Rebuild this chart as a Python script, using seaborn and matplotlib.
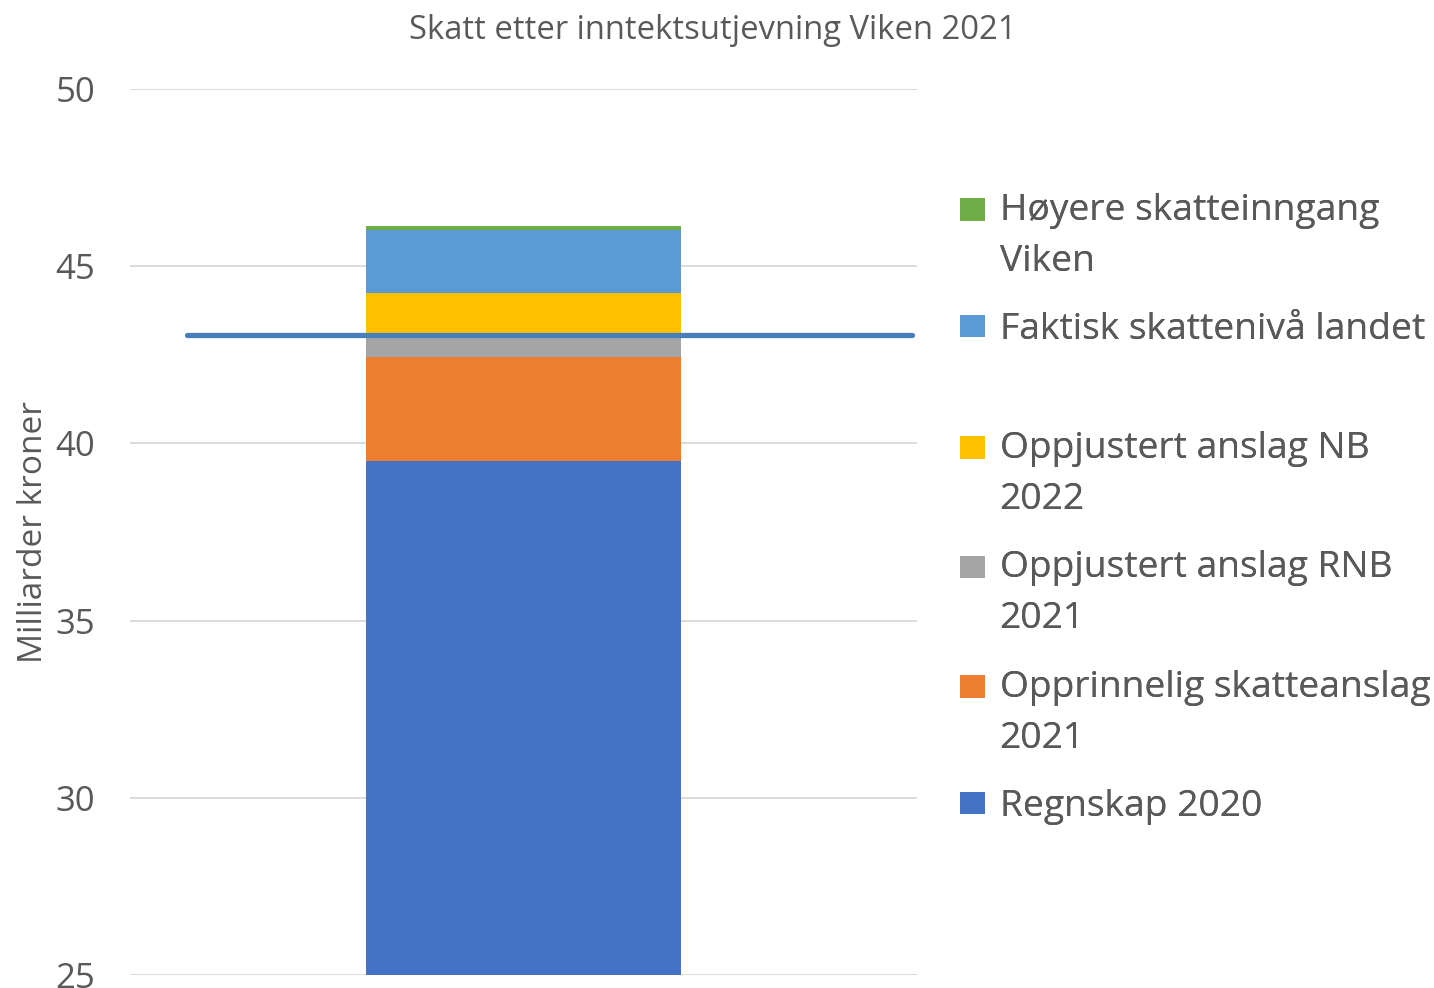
import matplotlib
matplotlib.use("Agg")
import matplotlib.pyplot as plt
import matplotlib.patheffects as pe
from matplotlib.patches import Patch, Rectangle
from matplotlib.legend_handler import HandlerBase
import seaborn as sns

# data (milliarder kroner), bottom to top
kategori = ["Viken 2021"]
serier = ["Regnskap 2020", "Opprinnelig skatteanslag\n2021", "Oppjustert anslag RNB\n2021",
          "Oppjustert anslag NB\n2022", "Faktisk skattenivå landet", "Høyere skatteinngang\nViken"]
verdier = [39.5, 2.94, 0.68, 1.12, 1.78, 0.11]
farger = ["#4472C4", "#ED7D31", "#A5A5A5", "#FFC000", "#5B9BD5", "#70AD47"]
landsnivaa = 43.05

sns.set_theme(style="whitegrid")
plt.rcParams["font.family"] = ["Open Sans", "DejaVu Sans"]
tekstfarge = "#595959"
LEG_FS = 26.8
LINESP = 1.56


class TopPatch(HandlerBase):
    # square handle aligned with the first line of a wrapped label
    def create_artists(self, legend, orig_handle, xdescent, ydescent, width, height, fontsize, trans):
        n = orig_handle.get_label().count("\n")
        shift = n * 0.49 * 0.95 * LINESP * fontsize
        r = Rectangle((-xdescent, -ydescent + shift), width, height,
                      facecolor=orig_handle.get_facecolor(), edgecolor="none", transform=trans)
        return [r]


fig = plt.figure(figsize=(14.34, 9.88), dpi=100)
ax = fig.add_axes([0.0907, 0.0132, 0.5488, 0.8967])

bunn = 0
for navn, v, f in zip(serier, verdier, farger):
    sns.barplot(x=kategori, y=[v], bottom=bunn, color=f, width=0.4, ax=ax,
                saturation=1, linewidth=0, zorder=3)
    bunn += v

ax.axhline(landsnivaa, xmin=0.072, xmax=0.994, color="#4A7EBB", lw=3.8, zorder=5,
           path_effects=[pe.SimplePatchShadow(offset=(1, -2), shadow_rgbFace="#808080", alpha=0.5),
                         pe.Normal()])

ax.set_ylim(25, 50)
ax.set_yticks(range(25, 51, 5))
ax.set_xlim(-0.5, 0.5)
ax.set_xticks([])
ax.set_xlabel("")
ax.grid(axis="y", color="#D9D9D9", lw=1.3)
ax.grid(axis="x", visible=False)
for s in ax.spines.values():
    s.set_visible(False)
ax.tick_params(axis="y", labelsize=25, colors=tekstfarge, pad=25, length=0)
ax.set_ylabel("Milliarder kroner", fontsize=24, color=tekstfarge, labelpad=4)

fig.text(0.497, 0.969, "Skatt etter inntektsutjevning Viken 2021", ha="center", va="center",
         fontsize=23.6, color=tekstfarge)

# legend in two blocks, top entry first, with a gap after "Faktisk skattenivå landet"
handles = [Patch(facecolor=f, edgecolor="none", label=s) for f, s in zip(farger, serier)][::-1]
labels = serier[::-1]
blokker = [(handles[:2], labels[:2], 0.805), (handles[2:], labels[2:], 0.564)]
for h, l, topp in blokker:
    leg = fig.legend(h, l, loc="upper left", bbox_to_anchor=(0.6695, topp),
                     frameon=False, fontsize=LEG_FS, handlelength=0.66, handleheight=0.55,
                     handletextpad=0.4, labelspacing=0.87, borderaxespad=0, borderpad=0,
                     handler_map={Patch: TopPatch()})
    for t in leg.get_texts():
        t.set_color(tekstfarge)
        t.set_linespacing(LINESP)
    fig.add_artist(leg)

fig.savefig("out.png", dpi=100)
